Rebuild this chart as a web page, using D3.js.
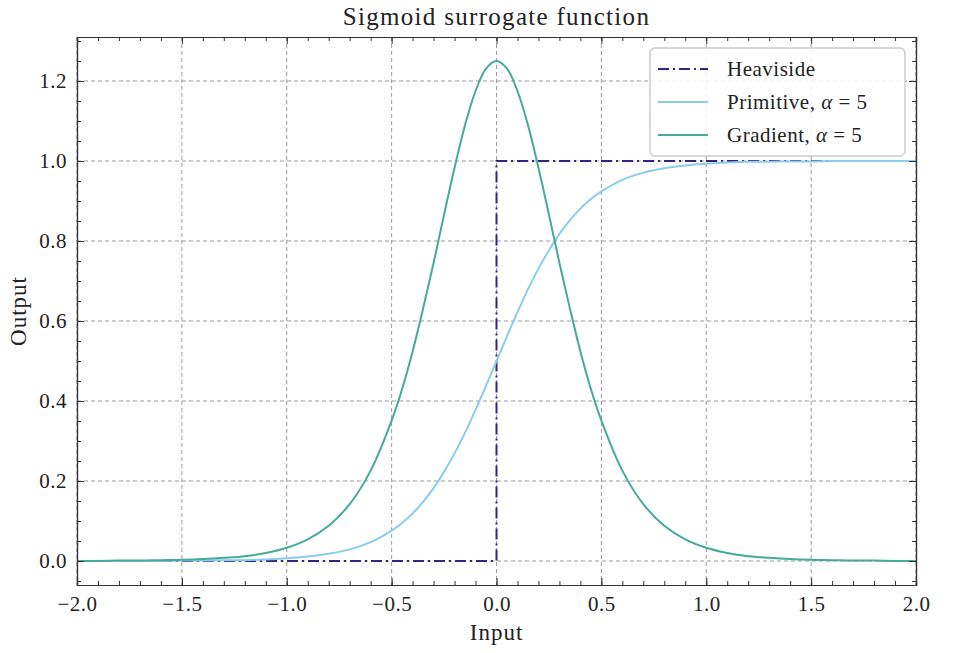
<!DOCTYPE html>
<html>
<head>
<meta charset="utf-8">
<script src="https://cdn.jsdelivr.net/npm/d3@7"></script>
<style>
body { margin: 0; background: #fff; }
text { font-family: "Liberation Serif", "DejaVu Serif", serif; fill: #222; }
</style>
</head>
<body>
<svg width="960" height="653"></svg>
<script>
// values
var inputs = [-2.0, -1.9, -1.8, -1.7, -1.6, -1.5, -1.4, -1.3, -1.2, -1.1, -1.0,
    -0.9, -0.8, -0.7, -0.6, -0.5, -0.45, -0.4, -0.35, -0.3, -0.25, -0.2, -0.15, -0.1, -0.05, 0.0,
    0.05, 0.1, 0.15, 0.2, 0.25, 0.3, 0.35, 0.4, 0.45, 0.5, 0.6, 0.7, 0.8, 0.9, 1.0,
    1.1, 1.2, 1.3, 1.4, 1.5, 1.6, 1.7, 1.8, 1.9, 2.0];
var primitive = [0.000, 0.000, 0.000, 0.000, 0.000, 0.001, 0.001, 0.002, 0.002, 0.004, 0.007,
    0.011, 0.018, 0.029, 0.047, 0.076, 0.095, 0.119, 0.148, 0.182, 0.223, 0.269, 0.321, 0.378, 0.438, 0.500,
    0.562, 0.622, 0.679, 0.731, 0.777, 0.818, 0.852, 0.881, 0.905, 0.924, 0.953, 0.971, 0.982, 0.989, 0.993,
    0.996, 0.998, 0.998, 0.999, 0.999, 1.000, 1.000, 1.000, 1.000, 1.000];
var gradient = [0.000, 0.000, 0.001, 0.001, 0.002, 0.003, 0.005, 0.008, 0.012, 0.020, 0.033,
    0.054, 0.088, 0.142, 0.226, 0.351, 0.430, 0.524, 0.631, 0.745, 0.866, 0.983, 1.090, 1.175, 1.231, 1.250,
    1.231, 1.175, 1.090, 0.983, 0.866, 0.745, 0.631, 0.524, 0.430, 0.351, 0.226, 0.142, 0.088, 0.054, 0.033,
    0.020, 0.012, 0.008, 0.005, 0.003, 0.002, 0.001, 0.001, 0.000, 0.000];
var stepX = [-2.0, 0.0, 0.0, 2.0];
var stepY = [0, 0, 1, 1];
var xTicks = [-2.0, -1.5, -1.0, -0.5, 0.0, 0.5, 1.0, 1.5, 2.0];
var yTicks = [0.0, 0.2, 0.4, 0.6, 0.8, 1.0, 1.2];
var seriesNames = ["Heaviside", "Primitive, α = 5", "Gradient, α = 5"];
var colors = ["#332288", "#88CCEE", "#44AA99"];

var svg = d3.select("svg"),
    margin = {top: 37, right: 44, bottom: 68, left: 77},
    width = +svg.attr("width") - margin.left - margin.right,
    height = +svg.attr("height") - margin.top - margin.bottom,
    g = svg.append("g").attr("transform", "translate(" + margin.left + "," + margin.top + ")");

var x = d3.scaleLinear().domain([-2, 2]).range([0, width]);
var y = d3.scaleLinear().domain([-0.06, 1.31]).range([height, 0]);

var fmt = function (d) { return d3.format(".1f")(d).replace("-", "\u2212\u2009"); };

// grid
g.append("g").selectAll("line").data(xTicks).enter().append("line")
    .attr("x1", function (d) { return x(d); }).attr("x2", function (d) { return x(d); })
    .attr("y1", 0).attr("y2", height)
    .attr("stroke", "#9a9a9a").attr("stroke-width", 1).attr("stroke-dasharray", "4,3");
g.append("g").selectAll("line").data(yTicks).enter().append("line")
    .attr("y1", function (d) { return y(d); }).attr("y2", function (d) { return y(d); })
    .attr("x1", 0).attr("x2", width)
    .attr("stroke", "#9a9a9a").attr("stroke-width", 1).attr("stroke-dasharray", "4,3");

// lines
var pts = function (xs, ys) { return xs.map(function (v, i) { return [v, ys[i]]; }); };
var line = d3.line()
    .x(function (d) { return x(d[0]); })
    .y(function (d) { return y(d[1]); });
var smooth = d3.line()
    .x(function (d) { return x(d[0]); })
    .y(function (d) { return y(d[1]); })
    .curve(d3.curveCatmullRom.alpha(0.5));

g.append("path").datum(pts(stepX, stepY))
    .attr("fill", "none").attr("stroke", colors[0]).attr("stroke-width", 2)
    .attr("stroke-dasharray", "11,4,2,4")
    .attr("d", line);
g.append("path").datum(pts(inputs, primitive))
    .attr("fill", "none").attr("stroke", colors[1]).attr("stroke-width", 2)
    .attr("d", smooth);
g.append("path").datum(pts(inputs, gradient))
    .attr("fill", "none").attr("stroke", colors[2]).attr("stroke-width", 2)
    .attr("d", smooth);

// axes with inward ticks on all sides
var xMinor = d3.range(-20, 21).map(function (i) { return i / 10; });
var yMinor = d3.range(-1, 27).map(function (i) { return i / 20; });

g.append("g").attr("transform", "translate(0," + height + ")")
    .call(d3.axisBottom(x).tickValues(xMinor).tickSize(-4).tickFormat(""));
g.append("g").attr("transform", "translate(0," + height + ")")
    .call(d3.axisBottom(x).tickValues(xTicks).tickSize(-7).tickPadding(11).tickFormat(fmt))
    .selectAll("text").attr("font-size", 21).attr("letter-spacing", 0.5);
g.append("g")
    .call(d3.axisTop(x).tickValues(xMinor).tickSize(-4).tickFormat(""));
g.append("g")
    .call(d3.axisTop(x).tickValues(xTicks).tickSize(-7).tickFormat(""));
g.append("g")
    .call(d3.axisLeft(y).tickValues(yMinor).tickSize(-4).tickFormat(""));
g.append("g")
    .call(d3.axisLeft(y).tickValues(yTicks).tickSize(-7).tickPadding(10).tickFormat(fmt))
    .selectAll("text").attr("font-size", 21).attr("letter-spacing", 0.5);
g.append("g").attr("transform", "translate(" + width + ",0)")
    .call(d3.axisRight(y).tickValues(yMinor).tickSize(-4).tickFormat(""));
g.append("g").attr("transform", "translate(" + width + ",0)")
    .call(d3.axisRight(y).tickValues(yTicks).tickSize(-7).tickFormat(""));

g.selectAll(".domain").attr("stroke", "#333").attr("stroke-width", 1.2);
g.selectAll(".tick line").attr("stroke", "#333").attr("stroke-width", 1);
g.selectAll(".tick text").attr("fill", "#222").attr("font-family", "Liberation Serif, DejaVu Serif, serif");

// labels
svg.append("text").attr("x", margin.left + width / 2).attr("y", 25)
    .attr("text-anchor", "middle").attr("font-size", 25).attr("letter-spacing", 1.3)
    .text("Sigmoid surrogate function");
svg.append("text").attr("x", margin.left + width / 2).attr("y", 640)
    .attr("text-anchor", "middle").attr("font-size", 23).attr("letter-spacing", 1)
    .text("Input");
svg.append("text").attr("transform", "translate(26," + (margin.top + height / 2) + ") rotate(-90)")
    .attr("text-anchor", "middle").attr("font-size", 23).attr("letter-spacing", 1)
    .text("Output");

// legend
var lg = g.append("g").attr("transform", "translate(573,11)");
lg.append("rect").attr("width", 255).attr("height", 108).attr("rx", 5)
    .attr("fill", "#fff").attr("fill-opacity", 0.85)
    .attr("stroke", "#cccccc").attr("stroke-width", 1.5);
var rows = lg.selectAll(".row").data(seriesNames).enter().append("g")
    .attr("transform", function (d, i) { return "translate(0," + (21 + i * 33) + ")"; });
rows.append("line").attr("x1", 8).attr("x2", 58).attr("y1", 0).attr("y2", 0)
    .attr("stroke", function (d, i) { return colors[i]; }).attr("stroke-width", 2)
    .attr("stroke-dasharray", function (d, i) { return i === 0 ? "11,4,2,4" : null; });
rows.append("text").attr("x", 77).attr("y", 7).attr("font-size", 21).attr("letter-spacing", 0.5)
    .html(function (d) {
        return d.replace("α", "<tspan font-style='italic'>α</tspan>");
    });
</script>
</body>
</html>
